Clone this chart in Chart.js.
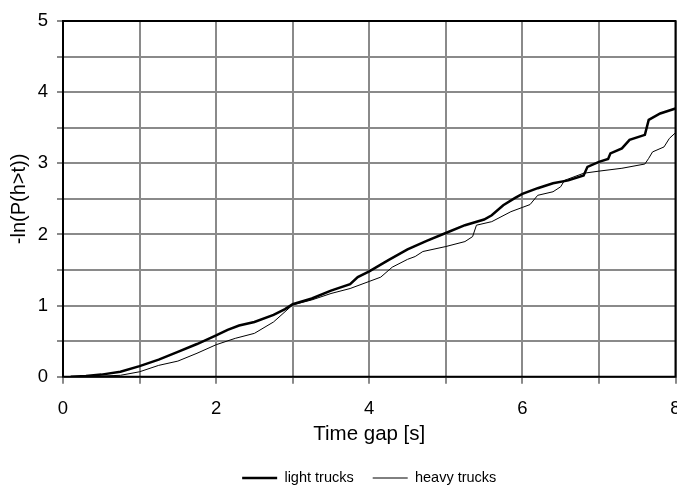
<!DOCTYPE html>
<html>
<head>
<meta charset="utf-8">
<script src="https://cdn.jsdelivr.net/npm/chart.js@4/dist/chart.umd.min.js"></script>
<style>
  html, body { margin: 0; padding: 0; background: #fff; }
  #wrap { width: 677px; height: 490px; }
</style>
</head>
<body>
<div id="wrap"><canvas id="c" width="677" height="490"></canvas></div>
<script>
// Time gap t [s] and -ln(P(h>t)) for light trucks
const lightT = [0.1, 0.3, 0.5, 0.75, 1, 1.25, 1.5, 1.75, 2, 2.15, 2.3, 2.5, 2.75, 2.9, 3, 3.25, 3.5, 3.75, 3.85, 4,
  4.25, 4.5, 4.75, 5, 5.25, 5.5, 5.6, 5.75, 5.9, 6, 6.2, 6.4, 6.6, 6.8, 6.85, 7, 7.12, 7.15, 7.3, 7.4, 7.6, 7.65, 7.8, 8];
const lightY = [0, 0.01, 0.03, 0.07, 0.15, 0.24, 0.35, 0.46, 0.58, 0.66, 0.72, 0.77, 0.87, 0.95, 1.02, 1.10, 1.21, 1.30, 1.40, 1.48,
  1.64, 1.79, 1.91, 2.02, 2.13, 2.21, 2.27, 2.41, 2.51, 2.57, 2.65, 2.72, 2.76, 2.83, 2.95, 3.02, 3.06, 3.14, 3.21, 3.33, 3.40, 3.61, 3.70, 3.77];

// Time gap t [s] and -ln(P(h>t)) for heavy trucks
const heavyT = [0.2, 0.5, 0.75, 1, 1.25, 1.5, 1.75, 2, 2.25, 2.5, 2.75, 3, 3.25, 3.5, 3.75, 4, 4.15, 4.3, 4.5, 4.6, 4.7,
  5, 5.25, 5.35, 5.4, 5.6, 5.85, 6, 6.1, 6.2, 6.4, 6.5, 6.55, 6.8, 7, 7.3, 7.6, 7.65, 7.7, 7.85, 7.92, 8];
const heavyY = [0, 0.01, 0.02, 0.07, 0.16, 0.22, 0.33, 0.45, 0.54, 0.61, 0.77, 1.01, 1.08, 1.17, 1.24, 1.34, 1.40, 1.54, 1.65, 1.69, 1.76,
  1.83, 1.90, 1.97, 2.13, 2.18, 2.32, 2.38, 2.42, 2.55, 2.60, 2.67, 2.76, 2.86, 2.89, 2.93, 2.99, 3.07, 3.16, 3.23, 3.35, 3.43];

const seriesNames = ['light trucks', 'heavy trucks'];
const xTitle = 'Time gap [s]';
const yTitle = '-ln(P(h>t))';

const toPoints = (xs, ys) => xs.map((x, i) => ({ x: x, y: ys[i] }));

const FONT = 'Liberation Sans, Arial, sans-serif';
const GRID = '#8a8a8a';

// Black frame around the plotting area
const framePlugin = {
  id: 'frame',
  beforeDatasetsDraw(chart) {
    const a = chart.chartArea, ctx = chart.ctx;
    ctx.save();
    ctx.strokeStyle = '#000';
    ctx.lineWidth = 2;
    ctx.strokeRect(a.left, a.top, a.right - a.left, a.bottom - a.top);
    ctx.restore();
  }
};

new Chart(document.getElementById('c'), {
  type: 'line',
  data: {
    datasets: [
      {
        label: seriesNames[0],
        data: toPoints(lightT, lightY),
        borderColor: '#000',
        backgroundColor: '#000',
        borderWidth: 2.5,
        pointRadius: 0,
        pointStyle: 'line',
        tension: 0,
        fill: false
      },
      {
        label: seriesNames[1],
        data: toPoints(heavyT, heavyY),
        borderColor: '#000',
        backgroundColor: '#000',
        borderWidth: 1,
        pointRadius: 0,
        pointStyle: 'line',
        tension: 0,
        fill: false
      }
    ]
  },
  options: {
    responsive: false,
    animation: false,
    events: [],
    layout: { padding: { left: 0, right: 1.5, top: 21, bottom: -5.25 } },
    plugins: {
      tooltip: { enabled: false },
      legend: {
        position: 'bottom',
        fullSize: false,
        labels: {
          usePointStyle: true,
          pointStyle: 'line',
          pointStyleWidth: 35,
          padding: 19,
          color: '#000',
          font: { family: FONT, size: 14.5 }
        }
      }
    },
    scales: {
      x: {
        type: 'linear',
        min: 0,
        max: 8,
        border: { display: false },
        grid: { color: GRID, lineWidth: 2, tickLength: 7, tickColor: GRID },
        ticks: {
          stepSize: 1,
          autoSkip: false,
          maxRotation: 0,
          padding: 14,
          color: '#000',
          font: { family: FONT, size: 18.5 },
          callback: v => (v % 2 === 0 ? String(v) : '')
        },
        title: {
          display: true,
          text: xTitle,
          color: '#000',
          font: { family: FONT, size: 20.5 },
          padding: { top: 0, bottom: 4.75 }
        },
        afterFit(s) { s.height = 75; s.paddingLeft = 0; s.paddingRight = 0; }
      },
      y: {
        type: 'linear',
        min: 0,
        max: 5,
        border: { display: false },
        grid: { color: GRID, lineWidth: 2, tickLength: 6, tickColor: GRID },
        ticks: {
          stepSize: 0.5,
          autoSkip: false,
          padding: 9,
          color: '#000',
          font: { family: FONT, size: 18.5 },
          callback: v => (Number.isInteger(v) ? String(v) : '')
        },
        title: {
          display: true,
          text: yTitle,
          color: '#000',
          font: { family: FONT, size: 20 },
          padding: { top: 7, bottom: 0 }
        },
        afterFit(s) { s.width = 63; s.paddingTop = 0; s.paddingBottom = 0; }
      }
    }
  },
  plugins: [framePlugin]
});
</script>
</body>
</html>
